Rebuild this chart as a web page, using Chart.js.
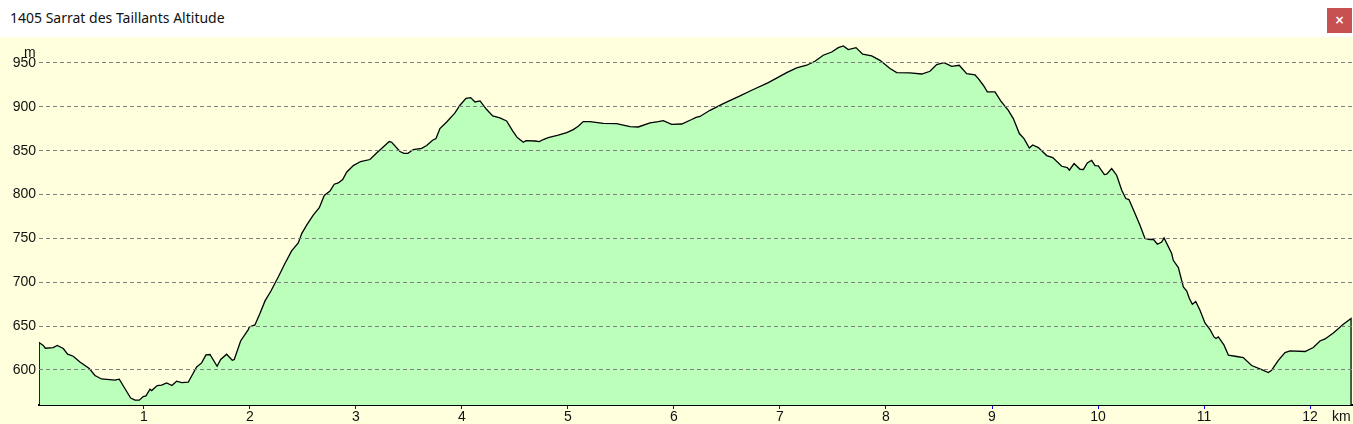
<!DOCTYPE html>
<html>
<head>
<meta charset="utf-8">
<title>1405 Sarrat des Taillants Altitude</title>
<script src="https://cdn.jsdelivr.net/npm/chart.js@4"></script>
<style>
  html, body { margin: 0; padding: 0; background: #fff; overflow: hidden; }
  #page { position: relative; width: 1353px; height: 424px; }
  #titre { position: absolute; left: 10px; top: 8px; font: 14px "Noto Sans", sans-serif; color: #111; white-space: nowrap; }
  #fermer { position: absolute; left: 1327px; top: 8px; width: 25px; height: 25px; background: #c75050; color: #fff;
            font: bold 12px/25px "DejaVu Sans", sans-serif; text-align: center; }
  #zone { position: absolute; left: 0; top: 37px; width: 1353px; height: 387px; background: #ffffdd; }
  canvas { display: block; }
  .unite { position: absolute; font: 14px "Liberation Sans", Arial, sans-serif; color: #111; }
</style>
</head>
<body>
<div id="page">
  <div id="titre">1405 Sarrat des Taillants Altitude</div>
  <div id="fermer">×</div>
  <div id="zone"><canvas id="profil" width="1353" height="387"></canvas></div>
  <div class="unite" style="left:24px;top:44px">m</div>
  <div class="unite" style="left:1332px;top:408px">km</div>
</div>
<script>
"use strict"
// Distance en km (premier et dernier point : fermeture du profil sur la ligne de base)
const distances = [
  0.012, 0.012, 0.05, 0.07, 0.144, 0.182, 0.239, 0.28, 0.333, 0.396, 0.484, 0.538, 0.6, 0.726, 0.767, 0.82, 0.875, 0.915, 0.956, 0.993,
  1.019, 1.057, 1.073, 1.125, 1.167, 1.214, 1.264, 1.308, 1.356, 1.418, 1.497, 1.544, 1.585, 1.623, 1.69, 1.724, 1.78, 1.833, 1.852, 1.912, 1.984, 1.994,
  2.047, 2.094, 2.142, 2.198, 2.267, 2.33, 2.393, 2.456, 2.488, 2.535, 2.597, 2.654, 2.701, 2.755, 2.795, 2.833, 2.875, 2.912, 2.975,
  3.044, 3.132, 3.195, 3.314, 3.337, 3.415, 3.453, 3.49, 3.541, 3.62, 3.667, 3.723, 3.755, 3.792, 3.856, 3.934, 3.981,
  4.038, 4.082, 4.123, 4.17, 4.233, 4.29, 4.358, 4.421, 4.478, 4.522, 4.579, 4.604, 4.689, 4.73, 4.767, 4.814, 4.908, 4.988,
  5.05, 5.097, 5.144, 5.208, 5.333, 5.459, 5.585, 5.663, 5.774, 5.852, 5.899, 5.978,
  6.073, 6.167, 6.208, 6.245, 6.34, 6.465, 6.623, 6.733, 6.89,
  7.063, 7.157, 7.252, 7.33, 7.408, 7.488, 7.55, 7.597, 7.644, 7.717, 7.78, 7.865, 7.943,
  8.038, 8.101, 8.226, 8.337, 8.415, 8.478, 8.547, 8.62, 8.691, 8.761, 8.84, 8.871, 8.918, 8.956,
  9.028, 9.082, 9.154, 9.201, 9.258, 9.302, 9.352, 9.384, 9.437, 9.516, 9.573, 9.658, 9.71, 9.73, 9.774, 9.83, 9.862, 9.899, 9.94, 9.972,
  10.003, 10.06, 10.082, 10.129, 10.176, 10.224, 10.262, 10.292, 10.349, 10.396, 10.443, 10.491, 10.522, 10.56, 10.601, 10.623, 10.695, 10.71, 10.758, 10.805, 10.837, 10.862, 10.89, 10.922, 10.962,
  11.009, 11.057, 11.094, 11.113, 11.135, 11.189, 11.23, 11.308, 11.37, 11.449, 11.544, 11.606, 11.638, 11.701, 11.764, 11.811, 11.953,
  12.031, 12.094, 12.142, 12.22, 12.314, 12.387, 12.387
]
// Altitude en m
const altitudes = [
  560, 631, 628, 624.7, 625.5, 627.8, 624.4, 617.9, 615.6, 609, 601.6, 593.6, 589.7, 588.3, 589.4, 578.8, 568, 565.5, 565.5, 569.7,
  570.4, 578, 576.5, 582.2, 582.6, 585.2, 582.2, 587.1, 585.6, 586, 603.4, 608, 617.1, 617.6, 604.2, 611.9, 617.9, 611, 611.9, 633, 646, 649,
  651.3, 664.3, 678.7, 690, 706, 721.3, 735.7, 744.8, 755.5, 765, 776.4, 785, 799, 804, 811.7, 813.2, 817, 825.4, 833,
  837.6, 839.9, 847.4, 860.4, 859.6, 849, 847, 847, 851.3, 852.7, 855.8, 861.9, 863.8, 875.2, 882.7, 893, 901.8,
  909.7, 910.5, 905.5, 906.7, 896.9, 889.6, 887.3, 883.9, 872.5, 864.9, 859.6, 861.5, 861, 860.4, 862.7, 864.9, 867.6, 870.6,
  874, 877.8, 883.2, 883.2, 881.2, 880.9, 877.5, 877, 881.6, 883.2, 884.3, 880,
  880.4, 885.5, 888, 889, 896, 903.7, 912.4, 918.9, 927.6,
  939, 944.3, 947.4, 951.9, 958.8, 962.5, 967.5, 969.4, 965.3, 967.5, 960, 958, 953,
  943.6, 939, 938.6, 937.4, 940.5, 948.2, 950.4, 946.2, 947.4, 937.9, 936.3, 932.2, 924.6, 917,
  917, 906.7, 896, 886.6, 869.5, 863.8, 853, 856.5, 853.5, 844.4, 842.1, 832.2, 830.7, 827.7, 835.3, 828.8, 828.5, 836, 839, 833,
  832.6, 822.8, 823.1, 829.6, 822, 804.9, 795.4, 794.3, 778.3, 765, 749.8, 748.7, 749, 743.3, 745.9, 750.5, 732.7, 725, 716.7, 694.6, 690, 681.4, 674.9, 678, 668,
  653.6, 646, 637.6, 635.8, 637.6, 628.2, 616.8, 615.3, 614.1, 605, 600.4, 597, 599.7, 611, 619.8, 621.7, 621,
  625.5, 633, 635.3, 642.2, 652, 658.6, 560
]
const ticksKm = [1, 2, 3, 4, 5, 6, 7, 8, 9, 10, 11, 12]
const ticksAltitude = [600, 650, 700, 750, 800, 850, 900, 950]

const points = distances.map(function (d, i) { return { x: d, y: altitudes[i] } })
const police = { family: '"Liberation Sans", Arial, sans-serif', size: 14 }

new Chart(document.getElementById("profil"), {
  type: "line",
  data: {
    datasets: [{
      data: points,
      borderColor: "#000000",
      borderWidth: 1.3,
      backgroundColor: "#bbffbb",
      fill: "start",
      pointRadius: 0,
      tension: 0
    }]
  },
  options: {
    responsive: false,
    animation: false,
    layout: { padding: { left: 0, right: 1, top: 0, bottom: 0 } },
    plugins: { legend: { display: false }, tooltip: { enabled: false } },
    scales: {
      x: {
        type: "linear",
        min: 0.01,
        max: 12.396,
        afterBuildTicks: function (axis) { axis.ticks = ticksKm.map(function (v) { return { value: v } }) },
        afterFit: function (axis) { axis.height = 19; axis.paddingLeft = 0; axis.paddingRight = 0 },
        grid: { drawOnChartArea: false, color: "#0000ff", tickLength: 4 },
        border: { color: "#000000", width: 2 },
        ticks: { color: "#111111", font: police, padding: 0, maxRotation: 0, autoSkip: false }
      },
      y: {
        min: 560,
        max: 979.6,
        afterBuildTicks: function (axis) { axis.ticks = ticksAltitude.map(function (v) { return { value: v } }) },
        // pas de marge automatique : la zone de tracé touche le haut du canvas
        afterFit: function (axis) { axis.width = 39; axis.paddingTop = 0; axis.paddingBottom = 0 },
        grid: { color: "#808080", lineWidth: 1, tickLength: 0, z: 1 },
        border: { display: false, dash: [4, 3] },
        ticks: { color: "#111111", font: police, padding: 3, autoSkip: false }
      }
    }
  }
})
</script>
</body>
</html>
